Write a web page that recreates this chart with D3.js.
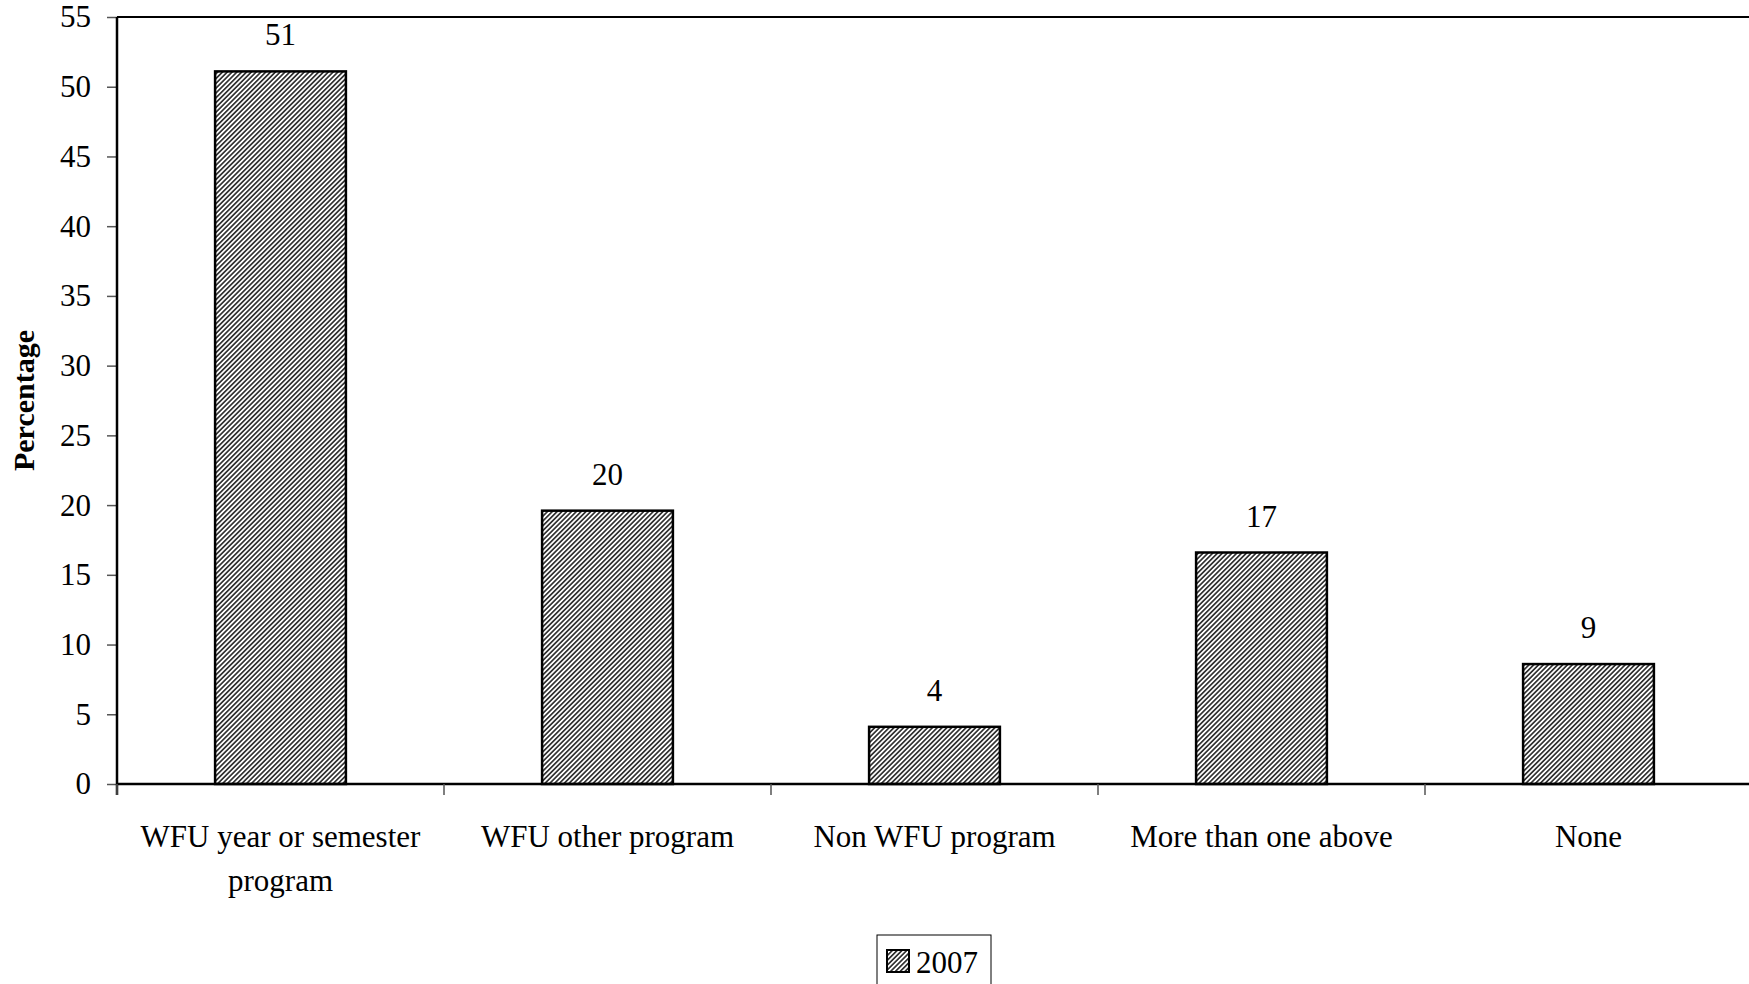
<!DOCTYPE html>
<html><head><meta charset="utf-8">
<script src="https://cdn.jsdelivr.net/npm/d3@7"></script>
<style>body{margin:0;background:#fff}svg{display:block}</style>
</head><body>
<svg id="c" width="1749" height="984"></svg>
<script>
const categories = [["WFU year or semester","program"],["WFU other program"],["Non WFU program"],["More than one above"],["None"]];
const values = [51.1, 19.6, 4.1, 16.6, 8.6];
const labels = ["51","20","4","17","9"];
const yTicks = [0,5,10,15,20,25,30,35,40,45,50,55];
const seriesName = "2007";

(function(){
const svg = d3.select("#c");
const FONT = "'Liberation Serif', 'Times New Roman', serif";
const FS = 31;
const pl = 117, pr = 1752, pt = 17, pb = 784;

const defs = svg.append("defs");
const pat = defs.append("pattern").attr("id","hatch").attr("patternUnits","userSpaceOnUse")
  .attr("width",3.4).attr("height",3.4).attr("patternTransform","rotate(45)");
pat.append("rect").attr("width",3.4).attr("height",3.4).attr("fill","#fff");
pat.append("rect").attr("width",1.7).attr("height",3.4).attr("fill","#333");

const x = d3.scaleBand().domain(d3.range(categories.length)).range([pl,pr]).paddingInner(0.6).paddingOuter(0.3);
const xb = d3.scaleBand().domain(d3.range(categories.length)).range([pl,pr]);
const y = d3.scaleLinear().domain([0,55]).range([pb,pt]);

svg.append("line").attr("x1",pl).attr("x2",1749).attr("y1",y(55)).attr("y2",y(55)).attr("stroke","#000").attr("stroke-width",2);

const ya = svg.append("g").attr("transform",`translate(${pl},0)`).call(d3.axisLeft(y).tickValues(yTicks).tickSize(10).tickPadding(16));
ya.select(".domain").remove();
ya.selectAll(".tick line").attr("stroke","#555").attr("stroke-width",1.5);
ya.selectAll("text").attr("font-family",FONT).attr("font-size",FS).attr("fill","#000").attr("dy","0.32em");
svg.append("line").attr("x1",pl).attr("x2",pl).attr("y1",y(55)).attr("y2",pb+11).attr("stroke","#000").attr("stroke-width",2.5);

svg.selectAll("rect.bar").data(values).join("rect").attr("class","bar")
  .attr("x",(d,i)=>x(i)).attr("width",x.bandwidth())
  .attr("y",d=>y(d)).attr("height",d=>y(0)-y(d))
  .attr("fill","url(#hatch)").attr("stroke","#000").attr("stroke-width",2.5);

svg.append("line").attr("x1",pl).attr("x2",1749).attr("y1",pb).attr("y2",pb).attr("stroke","#000").attr("stroke-width",2.5);
svg.selectAll("line.xt").data(d3.range(categories.length)).join("line").attr("class","xt")
  .attr("x1",i=>xb(i)).attr("x2",i=>xb(i)).attr("y1",pb).attr("y2",pb+11).attr("stroke","#555").attr("stroke-width",1.5);

const cl = svg.selectAll("text.cat").data(categories).join("text").attr("class","cat")
  .attr("x",(d,i)=>xb(i)+xb.bandwidth()/2).attr("y",847)
  .attr("text-anchor","middle").attr("font-family",FONT).attr("font-size",FS);
cl.selectAll("tspan").data(d=>d).join("tspan").attr("x",function(){return this.parentNode.getAttribute("x");})
  .attr("dy",(d,i)=>i?44:0).text(d=>d);

svg.selectAll("text.val").data(values).join("text").attr("class","val")
  .attr("x",(d,i)=>x(i)+x.bandwidth()/2).attr("y",d=>y(d)-26)
  .attr("text-anchor","middle").attr("font-family",FONT).attr("font-size",FS).text((d,i)=>labels[i]);

svg.append("text").attr("transform",`translate(34,${(pt+pb)/2}) rotate(-90)`)
  .attr("text-anchor","middle").attr("font-family",FONT).attr("font-weight","bold").attr("font-size",30).text("Percentage");

const lg = svg.append("g");
lg.append("rect").attr("x",877).attr("y",935).attr("width",114).attr("height",60).attr("fill","#fff").attr("stroke","#000").attr("stroke-width",1);
lg.append("rect").attr("x",887).attr("y",950).attr("width",22).attr("height",22).attr("fill","url(#hatch)").attr("stroke","#000").attr("stroke-width",2);
lg.append("text").attr("x",916).attr("y",973).attr("font-family",FONT).attr("font-size",FS).text(seriesName);
})();
</script>
</body></html>
